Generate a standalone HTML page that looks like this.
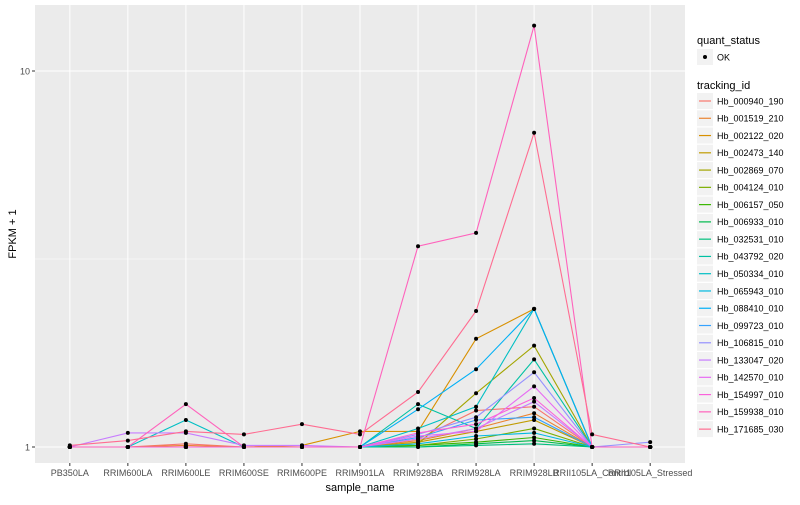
<!DOCTYPE html>
<html><head><meta charset="utf-8"><style>
body{margin:0;background:#fff;font-family:"Liberation Sans",sans-serif}
svg text{font-family:"Liberation Sans",sans-serif}
</style></head><body>
<svg width="800" height="500" xmlns="http://www.w3.org/2000/svg" id="chart">
<rect x="0" y="0" width="800" height="500" fill="#fff"/>
<rect x="35" y="5" width="650" height="458" fill="#EBEBEB"/>
<g id="grid"></g><g id="lines"></g><g id="points"></g><g id="axes"></g><g id="legend"></g>
</svg>
<script>
const categories=["PB350LA","RRIM600LA","RRIM600LE","RRIM600SE","RRIM600PE","RRIM901LA","RRIM928BA","RRIM928LA","RRIM928LB","RRII105LA_Control","RRII105LA_Stressed"];
const trackingIds=["Hb_000940_190","Hb_001519_210","Hb_002122_020","Hb_002473_140","Hb_002869_070","Hb_004124_010","Hb_006157_050","Hb_006933_010","Hb_032531_010","Hb_043792_020","Hb_050334_010","Hb_065943_010","Hb_088410_010","Hb_099723_010","Hb_106815_010","Hb_133047_020","Hb_142570_010","Hb_154997_010","Hb_159938_010","Hb_171685_030"];
const colors=["#F8766D","#EA8331","#D89000","#C09B00","#A3A500","#7CAE00","#39B600","#00BB4E","#00BF7D","#00C1A3","#00BFC4","#00BAE0","#00B0F6","#35A2FF","#9590FF","#C77CFF","#E76BF3","#FA62DB","#FF62BC","#FF6C91"];
const s00=[1,1,1.02,1,1,1,1.05,1.25,1.28,1,1];
const s01=[1,1,1.01,1,1,1,1.04,1.12,1.23,1,1];
const s02=[1,1,1,1,1.01,1.10,1.10,1.94,2.33,1,1];
const s03=[1,1,1,1,1,1,1.03,1.10,1.18,1,1];
const s04=[1,1,1,1,1,1,1.02,1.39,1.86,1,1];
const s05=[1,1,1,1,1,1,1.01,1.05,1.12,1,1];
const s06=[1,1,1,1,1,1,1.01,1.03,1.06,1,1];
const s07=[1,1,1,1,1,1,1.00,1.02,1.04,1,1];
const s08=[1,1,1,1,1,1,1.00,1.01,1.02,1,1];
const s09=[1,1,1,1,1,1,1.30,1.12,1.71,1,1];
const s10=[1,1,1.18,1,1,1,1.12,1.28,2.33,1,1];
const s11=[1,1,1,1,1,1,1.02,1.07,1.09,1,1];
const s12=[1,1,1,1,1,1,1.26,1.61,2.33,1,1];
const s13=[1,1,1,1,1,1,1.06,1.18,1.20,1,1];
const s14=[1,1,1,1,1,1,1.08,1.20,1.58,1,1.03];
const s15=[1,1.09,1.09,1.01,1.01,1,1.05,1.12,1.32,1,1];
const s16=[1,1,1,1,1,1,1.07,1.10,1.45,1,1];
const s17=[1,1,1,1,1,1,1.09,1.15,1.35,1,1];
const s18=[1,1,1.30,1,1,1,3.42,3.71,13.2,1,1];
const s19=[1.01,1.04,1.10,1.08,1.15,1.08,1.40,2.30,6.85,1.08,1];
const series=[s00,s01,s02,s03,s04,s05,s06,s07,s08,s09,s10,s11,s12,s13,s14,s15,s16,s17,s18,s19];
const yTicks=[1,10];
const yTickLabels=["1","10"];

const NS="http://www.w3.org/2000/svg";
const L=35,R=685,T=5,B=463;
const step=(R-L)/(categories.length-1+1.2);
function xScale(i){return L+0.6*step+i*step;}
function yScale(v){return 447-376*Math.log10(v);}
function mk(tag,attrs,parent){const e=document.createElementNS(NS,tag);for(const k in attrs)e.setAttribute(k,attrs[k]);parent.appendChild(e);return e;}
const grid=document.getElementById('grid'),lines=document.getElementById('lines'),pts=document.getElementById('points'),axes=document.getElementById('axes'),leg=document.getElementById('legend');
// minor grid
let mg=mk('line',{x1:L,x2:R,y1:yScale(Math.sqrt(10)),y2:yScale(Math.sqrt(10)),stroke:'#fff','stroke-width':0.5},grid);


yTicks.forEach((t,i)=>{
 const y=yScale(t);
 const g=mk('line',{x1:L,x2:R,y1:y,y2:y,stroke:'#fff','stroke-width':1},grid);
 
 
 const tk=mk('line',{x1:L-3,x2:L,y1:y,y2:y,stroke:'#333','stroke-width':1},axes);
 
 
 const tx=mk('text',{x:L-5,y:y+3.5,'text-anchor':'end','font-size':9,fill:'#4D4D4D'},axes);
 tx.textContent=yTickLabels[i];
 
 
});
categories.forEach((c,i)=>{
 const x=xScale(i);
 const g=mk('line',{x1:x,x2:x,y1:T,y2:B,stroke:'#fff','stroke-width':1},grid);
 
 
 const tk=mk('line',{x1:x,x2:x,y1:B,y2:B+3,stroke:'#333','stroke-width':1},axes);
 
 
 const tx=mk('text',{x:x,y:B+13,'text-anchor':'middle','font-size':9,fill:'#4D4D4D'},axes);
 tx.textContent=c;
 
 
});
series.forEach((s,k)=>{
 const d=s.map((v,i)=>(i?'L':'M')+xScale(i).toFixed(1)+','+yScale(v).toFixed(1)).join('');
 const p=mk('path',{d:d,fill:'none',stroke:colors[k],'stroke-width':1.1},lines);
 
 
 s.forEach((v,i)=>{
  const c=mk('circle',{cx:xScale(i),cy:yScale(v),r:2,fill:'#000'},pts);
  
  
 });
});
// axis titles
let xt=mk('text',{x:(L+R)/2,y:491,'text-anchor':'middle','font-size':11,fill:'#000'},axes);
xt.textContent='sample_name';


let yt=mk('text',{x:0,y:0,'text-anchor':'middle','font-size':11,fill:'#000',transform:'translate(16,'+((T+B)/2)+') rotate(-90)'},axes);
yt.textContent='FPKM + 1';


// legend
let lt=mk('text',{x:697,y:44,'font-size':11,fill:'#000'},leg);
lt.textContent='quant_status';


let kb=mk('rect',{x:697,y:49,width:16,height:16,fill:'#F2F2F2'},leg);


let kd=mk('circle',{cx:705,cy:57,r:2,fill:'#000'},leg);


let kt=mk('text',{x:717,y:60.5,'font-size':9,fill:'#000'},leg);
kt.textContent='OK';


let tt=mk('text',{x:697,y:89,'font-size':11,fill:'#000'},leg);
tt.textContent='tracking_id';


trackingIds.forEach((id,k)=>{
 const y=101+k*17.27;
 const r=mk('rect',{x:697,y:y-8,width:16,height:16,fill:'#F2F2F2'},leg);
 
 
 const l=mk('line',{x1:699,x2:711,y1:y,y2:y,stroke:colors[k],'stroke-width':1.2},leg);
 
 
 const t=mk('text',{x:717,y:y+3.3,'font-size':9,fill:'#000'},leg);
 t.textContent=id;
 
 
});
</script>
</body></html>
